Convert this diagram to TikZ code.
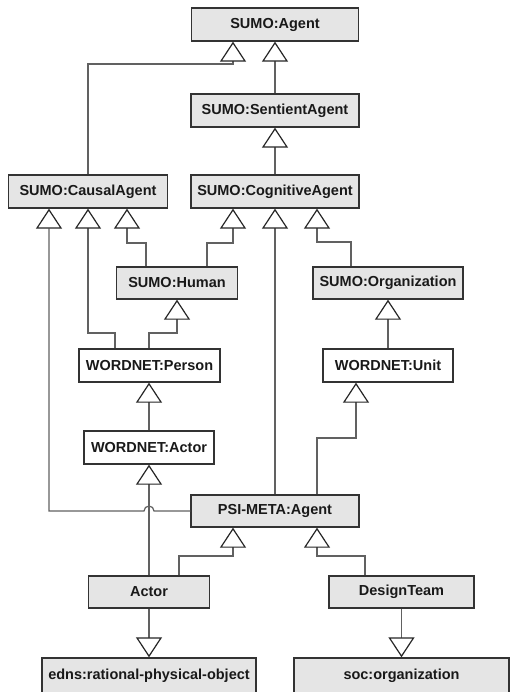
\documentclass[tikz,border=0pt]{standalone}
\usepackage{fontspec}
\setmainfont{Liberation Sans}
\usetikzlibrary{arrows.meta}
\begin{document}
\begin{tikzpicture}[x=1pt,y=-1pt,
  box/.style={draw=black!80, line width=1.4pt, fill=black!10, font=\bfseries\fontsize{14.5}{16}\selectfont, text=black!90, minimum height=33pt, inner sep=0pt},
  wbox/.style={box, fill=white},
  inh/.style={draw=black!62, line width=1.2pt, -{Triangle[color=black!85, fill=white, length=20pt, width=26pt, line width=1.2pt]}}]
\useasboundingbox[fill=white] (0,0) rectangle (512,692);
% nodes
\node[box, minimum width=167pt] (agent) at (275,24.5) {SUMO:Agent};
\node[box, minimum width=168pt] (sentient) at (275,110.5) {SUMO:SentientAgent};
\node[box, minimum width=159pt] (causal) at (88,191.5) {SUMO:CausalAgent};
\node[box, minimum width=168pt] (cognitive) at (275,191.5) {SUMO:CognitiveAgent};
\node[box, minimum width=121pt, minimum height=32pt] (human) at (177,283) {SUMO:Human};
\node[box, minimum width=150pt, minimum height=32pt] (org) at (388,283) {SUMO:Organization};
\node[wbox, minimum width=141pt] (person) at (149.5,365.5) {WORDNET:Person};
\node[wbox, minimum width=130pt] (unit) at (388,365.5) {WORDNET:Unit};
\node[wbox, minimum width=130pt] (wnactor) at (149,447.5) {WORDNET:Actor};
\node[box, minimum width=168pt, minimum height=32pt] (psi) at (275,511) {PSI-META:Agent};
\node[box, minimum width=121pt, minimum height=32pt] (actor) at (149,592) {Actor};
\node[box, minimum width=145pt, minimum height=32pt] (design) at (401.5,592) {DesignTeam};
\node[box, minimum width=214pt, minimum height=35pt] (edns) at (149,675.5) {edns:rational-physical-object};
\node[box, minimum width=215pt, minimum height=35pt] (soc) at (401.5,675.5) {soc:organization};
% connectors
\draw[inh] (causal.north) |- (233,64) -- ([xshift=-42pt]agent.south);
\draw[inh] (sentient.north) -- (agent.south);
\draw[inh] (cognitive.north) -- (sentient.south);
\draw[inh] ([xshift=-31pt]human.north) |- (127,243) -- ([xshift=39pt]causal.south);
\draw[inh] ([xshift=30pt]human.north) |- (233,243) -- ([xshift=-42pt]cognitive.south);
\draw[inh] ([xshift=-34.5pt]person.north) |- (88,333) -- (causal.south);
\draw[inh] ([xshift=-0.5pt]person.north) |- (177,333) -- (human.south);
\draw[inh] ([xshift=-37pt]org.north) |- (317,242) -- ([xshift=42pt]cognitive.south);
\draw[inh] (unit.north) -- (org.south);
\draw[inh] (wnactor.north) -- ([xshift=-0.5pt]person.south);
\draw[inh] ([xshift=42pt]psi.north) |- (356,438) -- ([xshift=-32pt]unit.south);
\draw[inh] (psi.north) -- (cognitive.south);
\draw[inh] (psi.west) -- (154,511) arc[start angle=0, end angle=180, radius=5pt] -- (49,511) -- ([xshift=-39pt]causal.south);
\draw[inh] ([xshift=30pt]actor.north) |- (233,556) -- ([xshift=-42pt]psi.south);
\draw[inh] (actor.north) -- (wnactor.south);
\draw[inh] ([xshift=-36.5pt]design.north) |- (317,556) -- ([xshift=42pt]psi.south);
\draw[inh] (actor.south) -- (edns.north);
\draw[inh] (design.south) -- (soc.north);
\end{tikzpicture}
\end{document}
